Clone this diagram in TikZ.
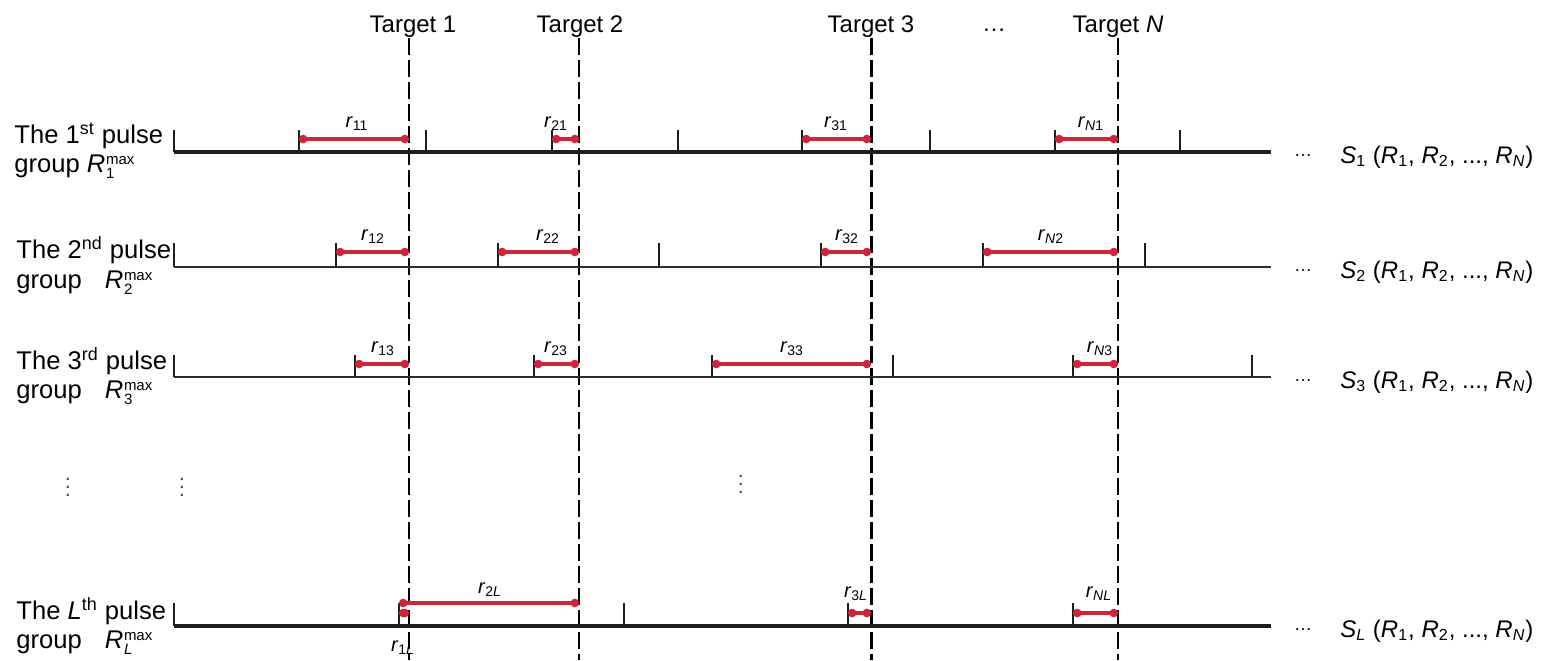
\documentclass[tikz,border=0pt]{standalone}
\usepackage{fontspec}
\setmainfont{Liberation Sans}
\usetikzlibrary{arrows.meta}
\definecolor{barred}{RGB}{206,36,60}
\definecolor{axisdark}{RGB}{30,30,30}
\definecolor{axisgray}{RGB}{45,45,45}
\newcommand{\rr}[1]{\textit{r}\textsubscript{#1}}
\newcommand{\Rmx}[1]{\textit{R}\kern0.3pt\makebox[0pt][l]{\raisebox{0.55ex}{\fontsize{7.5}{8}\selectfont max}}\raisebox{-0.5ex}{\fontsize{7.5}{8}\selectfont #1}}
\newcommand{\Sset}[1]{\textit{S}\textsubscript{#1} (\textit{R}\textsubscript{1}, \textit{R}\textsubscript{2}, ..., \textit{R}\textsubscript{\textit{N}})}
\tikzset{
  axisline/.style={line width=1.7pt, draw=axisdark},
  axislight/.style={line width=1.2pt, draw=axisgray},
  tickmark/.style={line width=1pt, draw=axisdark},
  rbar/.style={draw=barred, line width=1.6pt, {Circle[length=4.2pt]}-{Circle[length=4.2pt]}},
  tgt/.style={draw=black, dash pattern=on 8.5pt off 2.5pt},
  lbl/.style={font=\fontsize{12}{14}\selectfont, inner sep=0pt},
  side/.style={font=\fontsize{12.8}{14}\selectfont, inner sep=0pt, anchor=base west},
  rlab/.style={font=\fontsize{10}{12}\selectfont, inner sep=0pt, anchor=base},
  vdot/.style={font=\fontsize{10}{12}\selectfont, inner sep=0pt, text=black!75},
}
\begin{document}
\begin{tikzpicture}[x=0.5pt,y=-0.5pt]
\useasboundingbox (0,0) rectangle (1553,660);

% ---------- targets ----------
\node[lbl, anchor=base] (t1) at (413,32) {Target 1};
\node[lbl, anchor=base] (t2) at (580,32) {Target 2};
\node[lbl, anchor=base] (t3) at (871,32) {Target 3};
\node[lbl] (tdots) at (994,30) {\ldots};
\node[lbl, anchor=base] (tN) at (1118,32) {Target \textit{N}};

\coordinate (d1a) at (409,38);  \coordinate (d1b) at (409,660);
\coordinate (d2a) at (579,38);  \coordinate (d2b) at (579,660);
\coordinate (d3a) at (871,38);  \coordinate (d3b) at (871,660);
\coordinate (dNa) at (1118,38); \coordinate (dNb) at (1118,660);
\draw[tgt, line width=1.1pt] (d1a) -- (d1b);
\draw[tgt, line width=1.4pt] (d2a) -- (d2b);
\draw[tgt, line width=1.5pt] (d3a) -- (d3b);
\draw[tgt, line width=1.0pt] (dNa) -- (dNb);

% ---------- row 1 ----------
\node[side] (l1a) at (14,143) {The 1\textsuperscript{st} pulse};
\node[side] (l1b) at (14,172) {group \Rmx{1}};
\coordinate (ax1s) at (174,152); \coordinate (ax1e) at (1271,152);
\draw[axisline] (ax1s) -- (ax1e);
\foreach \x [count=\i] in {174,299,426,552,678,802,930,1055,1180} {
  \coordinate (k1b\i) at (\x,152); \coordinate (k1t\i) at (\x,130);
  \draw[tickmark] (k1b\i) -- (k1t\i);
}
\coordinate (b11l) at (299,139);  \coordinate (b11r) at (409,139);
\coordinate (b21l) at (552,139);  \coordinate (b21r) at (579,139);
\coordinate (b31l) at (802,139);  \coordinate (b31r) at (871,139);
\coordinate (bN1l) at (1055,139); \coordinate (bN1r) at (1118,139);
\draw[rbar] (b11l) -- (b11r);
\draw[rbar] (b21l) -- (b21r);
\draw[rbar] (b31l) -- (b31r);
\draw[rbar] (bN1l) -- (bN1r);
\node[rlab] (r11) at (357,127) {\rr{11}};
\node[rlab] (r21) at (556,127) {\rr{21}};
\node[rlab] (r31) at (836,127) {\rr{31}};
\node[rlab] (rN1) at (1091,127) {\rr{\textit{N}1}};
\node[lbl] (e1) at (1303,156) {\fontsize{9}{10}\selectfont\ldots};
\node[lbl, anchor=base west] (s1) at (1340,163) {\Sset{1}};

% ---------- row 2 ----------
\node[side] (l2a) at (16,258) {The 2\textsuperscript{nd} pulse};
\node[side] (l2b) at (16,288) {group\hspace{0.9em}\Rmx{2}};
\coordinate (ax2s) at (174,267); \coordinate (ax2e) at (1271,267);
\draw[axislight] (ax2s) -- (ax2e);
\foreach \x [count=\i] in {174,336,498,659,821,983,1145} {
  \coordinate (k2b\i) at (\x,267); \coordinate (k2t\i) at (\x,243);
  \draw[tickmark] (k2b\i) -- (k2t\i);
}
\coordinate (b12l) at (336,252);  \coordinate (b12r) at (409,252);
\coordinate (b22l) at (498,252);  \coordinate (b22r) at (579,252);
\coordinate (b32l) at (821,252);  \coordinate (b32r) at (871,252);
\coordinate (bN2l) at (983,252);  \coordinate (bN2r) at (1118,252);
\draw[rbar] (b12l) -- (b12r);
\draw[rbar] (b22l) -- (b22r);
\draw[rbar] (b32l) -- (b32r);
\draw[rbar] (bN2l) -- (bN2r);
\node[rlab] (r12) at (373,240) {\rr{12}};
\node[rlab] (r22) at (548,240) {\rr{22}};
\node[rlab] (r32) at (847,240) {\rr{32}};
\node[rlab] (rN2) at (1051,240) {\rr{\textit{N}2}};
\node[lbl] (e2) at (1303,271) {\fontsize{9}{10}\selectfont\ldots};
\node[lbl, anchor=base west] (s2) at (1340,278) {\Sset{2}};

% ---------- row 3 ----------
\node[side] (l3a) at (16,369) {The 3\textsuperscript{rd} pulse};
\node[side] (l3b) at (16,398) {group\hspace{0.9em}\Rmx{3}};
\coordinate (ax3s) at (174,377); \coordinate (ax3e) at (1271,377);
\draw[axislight] (ax3s) -- (ax3e);
\foreach \x [count=\i] in {174,355,534,712,893,1073,1252} {
  \coordinate (k3b\i) at (\x,377); \coordinate (k3t\i) at (\x,355);
  \draw[tickmark] (k3b\i) -- (k3t\i);
}
\coordinate (b13l) at (355,364);  \coordinate (b13r) at (409,364);
\coordinate (b23l) at (534,364);  \coordinate (b23r) at (579,364);
\coordinate (b33l) at (712,364);  \coordinate (b33r) at (871,364);
\coordinate (bN3l) at (1073,364); \coordinate (bN3r) at (1118,364);
\draw[rbar] (b13l) -- (b13r);
\draw[rbar] (b23l) -- (b23r);
\draw[rbar] (b33l) -- (b33r);
\draw[rbar] (bN3l) -- (bN3r);
\node[rlab] (r13) at (383,352) {\rr{13}};
\node[rlab] (r23) at (556,352) {\rr{23}};
\node[rlab] (r33) at (792,352) {\rr{33}};
\node[rlab] (rN3) at (1100,352) {\rr{\textit{N}3}};
\node[lbl] (e3) at (1303,381) {\fontsize{9}{10}\selectfont\ldots};
\node[lbl, anchor=base west] (s3) at (1340,388) {\Sset{3}};

% ---------- vertical ellipses ----------
\node[vdot] (v1) at (68,481) {$\vdots$};
\node[vdot] (v2) at (182,481) {$\vdots$};
\node[vdot] (v3) at (741,478) {$\vdots$};

% ---------- row L ----------
\node[side] (lLa) at (16,619) {The \textit{L}\textsuperscript{th} pulse};
\node[side] (lLb) at (16,648) {group\hspace{0.9em}\Rmx{\textit{L}}};
\coordinate (axLs) at (174,626); \coordinate (axLe) at (1271,626);
\draw[axisline] (axLs) -- (axLe);
\foreach \x [count=\i] in {174,399,624,848,1073} {
  \coordinate (kLb\i) at (\x,626); \coordinate (kLt\i) at (\x,603);
  \draw[tickmark] (kLb\i) -- (kLt\i);
}
\coordinate (b1Ll) at (399,613);  \coordinate (b1Lr) at (409,613);
\coordinate (b2Ll) at (399,603);  \coordinate (b2Lr) at (579,603);
\coordinate (b3Ll) at (848,613);  \coordinate (b3Lr) at (871,613);
\coordinate (bNLl) at (1073,613); \coordinate (bNLr) at (1118,613);
\draw[rbar] (b2Ll) -- (b2Lr);
\draw[rbar] (b1Ll) -- (b1Lr);
\draw[rbar] (b3Ll) -- (b3Lr);
\draw[rbar] (bNLl) -- (bNLr);
\node[rlab] (r1L) at (403,651) {\rr{1\textit{L}}};
\node[rlab] (r2L) at (490,593) {\rr{2\textit{L}}};
\node[rlab] (r3L) at (856,597) {\rr{3\textit{L}}};
\node[rlab] (rNL) at (1099,597) {\rr{\textit{NL}}};
\node[lbl] (eL) at (1303,630) {\fontsize{9}{10}\selectfont\ldots};
\node[lbl, anchor=base west] (sL) at (1340,637) {\Sset{\textit{L}}};
\end{tikzpicture}
\end{document}
